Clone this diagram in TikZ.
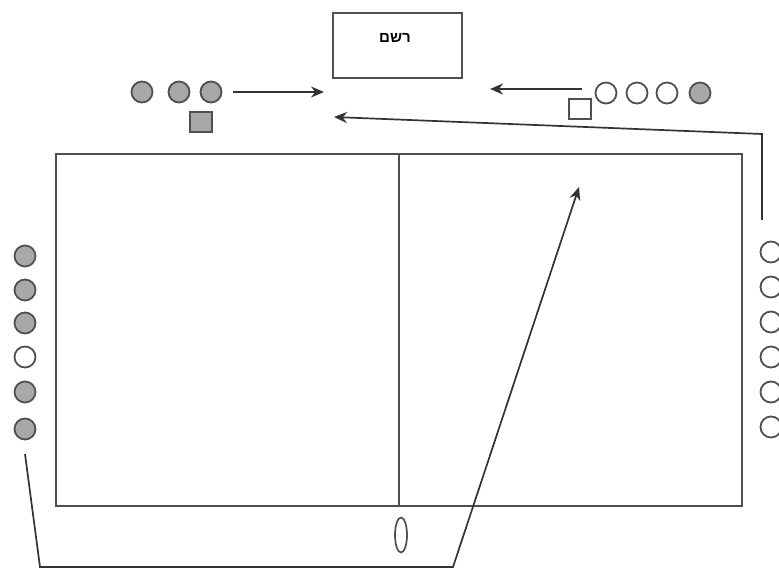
\documentclass[tikz,border=0pt]{standalone}
\usepackage{fontspec}
\setmainfont{Liberation Sans}
\newfontfamily\hebfont[Script=Hebrew]{Liberation Sans}
\TeXXeTstate=1
\usetikzlibrary{arrows.meta,shapes.geometric}
\definecolor{ln}{HTML}{505050}
\definecolor{pl}{HTML}{A8A8A8}
\tikzset{
  lineb/.style={draw=ln,line width=2pt},
  fullp/.style={circle,draw=ln,line width=1.8pt,fill=pl,minimum size=21pt,inner sep=0pt},
  emptyp/.style={circle,draw=ln,line width=1.8pt,fill=white,minimum size=21pt,inner sep=0pt},
  fullsq/.style={rectangle,draw=ln,line width=1.8pt,fill=pl,minimum width=22pt,minimum height=20pt,inner sep=0pt},
  emptysq/.style={rectangle,draw=ln,line width=1.8pt,fill=white,minimum width=22pt,minimum height=20pt,inner sep=0pt},
  arr/.style={draw=black!80,line width=1.7pt,-{Stealth[length=13pt,width=11pt]}},
}
\begin{document}
\begin{tikzpicture}[x=1pt,y=-1pt]
\useasboundingbox (0,0) rectangle (779,569);
% scorer box
\node[draw=ln,line width=2pt,minimum width=129pt,minimum height=65pt,inner sep=0pt] (box) at (397.5,45.5) {};
\node[font=\hebfont\bfseries\fontsize{15}{17}\selectfont] (lbl) at (395,38) {\beginR רשם\endR};
% court
\draw[lineb] (56,154) rectangle (742,506);
\coordinate (nt) at (399,154);
\coordinate (nb) at (399,506);
\draw[lineb] (nt) -- (nb);
\node[ellipse,draw=ln,line width=1.7pt,minimum width=12pt,minimum height=35pt,inner sep=0pt] (ball) at (401,535) {};
% top-left players
\node[fullp] (tl1) at (142,92) {};
\node[fullp] (tl2) at (179,92) {};
\node[fullp] (tl3) at (211,92) {};
\node[fullsq] (tlsq) at (201,122) {};
% top-right players
\node[emptysq] (trsq) at (580,109) {};
\node[emptyp] (tr1) at (606,93) {};
\node[emptyp] (tr2) at (637,93) {};
\node[emptyp] (tr3) at (667,93) {};
\node[fullp] (tr4) at (700,93) {};
% left column
\node[fullp] (l1) at (25,256) {};
\node[fullp] (l2) at (25,290) {};
\node[fullp] (l3) at (25,323) {};
\node[emptyp] (l4) at (25,357) {};
\node[fullp] (l5) at (25,392) {};
\node[fullp] (l6) at (25,429) {};
% right column
\node[emptyp] (r1) at (771,252) {};
\node[emptyp] (r2) at (771,287) {};
\node[emptyp] (r3) at (771,322) {};
\node[emptyp] (r4) at (771,357) {};
\node[emptyp] (r5) at (771,392) {};
\node[emptyp] (r6) at (771,427) {};
% arrows
\coordinate (a1s) at (233,92);
\coordinate (a1e) at (324,92);
\draw[arr] (a1s) -- (a1e);
\coordinate (a2s) at (582,89);
\coordinate (a2e) at (490,89);
\draw[arr] (a2s) -- (a2e);
\coordinate (b1) at (762,220);
\coordinate (b2) at (762,134);
\coordinate (b3) at (334,117);
\draw[arr] (b1) -- (b2) -- (b3);
\coordinate (c1) at (25,454);
\coordinate (c2) at (40,567);
\coordinate (c3) at (453,567);
\coordinate (c4) at (579,187);
\draw[arr] (c1) -- (c2) -- (c3) -- (c4);
\end{tikzpicture}
\end{document}
